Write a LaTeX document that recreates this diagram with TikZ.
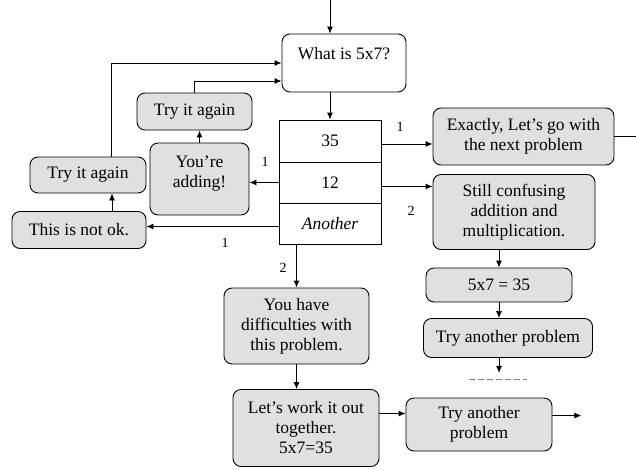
\documentclass[tikz,border=0pt]{standalone}
\usepackage{fontspec}
\setmainfont{Liberation Serif}
\usepackage{tikz}
\usetikzlibrary{arrows.meta}
\definecolor{boxgray}{RGB}{224,224,224}

\begin{document}
\begin{tikzpicture}[x=1pt,y=-1pt,
  every node/.style={font=\fontsize{17.5}{20}\selectfont},
  msg/.style={draw,rounded corners=8pt,fill=boxgray,align=center,inner sep=2pt},
  quest/.style={draw,rounded corners=8pt,fill=white,align=center,inner sep=2pt},
  cell/.style={draw,fill=white,minimum width=102,inner sep=0pt},
  num/.style={font=\fontsize{14}{16}\selectfont,inner sep=0pt},
  link/.style={-{Latex[length=7pt,width=6pt]},line width=0.9pt},
  line width=0.9pt]
  \useasboundingbox (0,0) rectangle (636,469);

  % question and answer table
  \node[quest,minimum width=124,minimum height=58] (what) at (344,63) {What is 5x7?\\ ~};
  \node[cell,minimum height=42] (n35) at (330,141) {35};
  \node[cell,minimum height=41] (n12) at (330,182.5) {12};
  \node[cell,minimum height=41] (another) at (330,223.5) {\itshape Another};

  % right branch
  \node[msg,minimum width=181,minimum height=57] (exact) at (523.5,136.5) {Exactly, Let’s go with\\the next problem};
  \node[msg,minimum width=162,minimum height=75] (still) at (514,212) {Still confusing\\addition and\\multiplication.};
  \node[msg,minimum width=146,minimum height=34] (five) at (499,285) {5x7 = 35};
  \node[msg,minimum width=169,minimum height=39] (tryA) at (508,338) {Try another problem};

  % left branch
  \node[msg,minimum width=99,minimum height=72] (adding) at (199.5,179) {You’re\\adding!\\[-6pt]~};
  \node[msg,minimum width=115,minimum height=37] (tryT) at (194.5,111.5) {Try it again};
  \node[msg,minimum width=134,minimum height=37] (notok) at (79,230) {This is not ok.};
  \node[msg,minimum width=116,minimum height=36] (tryL) at (88,175) {Try it again};

  % bottom branch
  \node[msg,minimum width=145,minimum height=76] (diff) at (296.5,326) {You have\\difficulties with\\this problem.};
  \node[msg,minimum width=146,minimum height=77] (work) at (306,428) {Let’s work it out\\together.\\5x7=35};
  \node[msg,minimum width=146,minimum height=53] (tryB) at (479,424.5) {Try another\\problem};

  \coordinate (start) at (330,0);

  % connectors
  \draw[link] (start) -- (start |- what.north);
  \draw[link] (n35.north |- what.south) -- (n35.north);
  \draw[link] ([yshift=-3pt]n35.east) -- ([yshift=-3pt]n35.east -| exact.west);
  \draw (exact.east) -- ++(22,0);
  \draw[link] ([yshift=-4pt]n12.east) -- ([yshift=-4pt]n12.east -| still.west);
  \draw[link] (still.south -| five.north) -- (five.north);
  \draw[link] (five.south) -- (five.south |- tryA.north);
  \draw[link] (tryA.south -| five.south) -- ++(0,15);
  \draw[dashed,dash pattern=on 6pt off 3pt,gray] (469,379) -- (527,379);

  \draw[link] (n12.west) -- (n12.west -| adding.east);
  \draw[link] (adding.north) -- (adding.north |- tryT.south);
  \draw[link] (tryT.north) |- ([yshift=-18pt]what.west);
  \draw[link] ([yshift=-3pt]another.west) -- ([yshift=-3pt]another.west -| notok.east);
  \draw[link] ([xshift=33pt]notok.north) -- ([xshift=33pt]notok.north |- tryL.south);
  \draw[link] ([xshift=23pt]tryL.north) |- (what.west);

  \draw[link] (diff.north |- another.south) -- (diff.north);
  \draw[link] (diff.south) -- (diff.south |- work.north);
  \draw[link] ([yshift=11pt]tryB.west -| work.east) -- ([yshift=11pt]tryB.west);
  \draw[link] ([yshift=9pt]tryB.east) -- ++(29,0);

  % branch numbers
  \node[num] (l1) at (400,127) {1};
  \node[num] (l2) at (411,211) {2};
  \node[num] (l3) at (265,162) {1};
  \node[num] (l4) at (225,243) {1};
  \node[num] (l5) at (283,268) {2};
\end{tikzpicture}
\end{document}
